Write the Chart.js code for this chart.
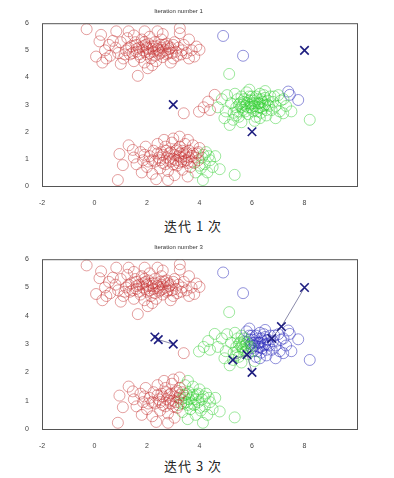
<!DOCTYPE html>
<html>
<head>
<meta charset="utf-8">
<script src="https://cdn.jsdelivr.net/npm/chart.js@4/dist/chart.umd.min.js"></script>
<style>
  body { margin: 0; background: #fff; width: 394px; height: 478px; position: relative; overflow: hidden; }
  canvas { position: absolute; left: 0; }
  .cap { position: absolute; left: 0; width: 386px; text-align: center; font-family: "Noto Sans CJK SC", sans-serif; font-size: 13px; color: #222; letter-spacing: 1px; }
</style>
</head>
<body>
<canvas id="c1" width="394" height="206" style="top:0"></canvas>
<div class="cap" style="top:216px">迭代 1 次</div>
<canvas id="c2" width="394" height="213" style="top:236px"></canvas>
<div class="cap" style="top:456px">迭代 3 次</div>
<script>
// data points (same points in both iterations)
const upperPts = [
  [-0.3,5.78],[0.83,5.7],[0.25,5.57],[1.91,5.7],[3.25,5.82],[3.25,5.63],[3.88,5.14],[4.0,5.02],[3.8,4.77],[0.06,4.77],
  [0.19,5.33],[1.65,4.06],[2.03,4.34],[0.4,5.0],[0.55,5.2],[0.6,4.8],[0.8,5.1],[0.9,4.9],[1.0,5.3],[1.1,4.7],
  [1.2,5.0],[1.25,5.45],[1.35,4.85],[1.4,5.15],[1.5,4.6],[1.55,5.3],[1.6,4.95],[1.7,5.1],[1.75,4.75],[1.8,5.4],
  [1.85,5.0],[1.9,4.55],[1.95,5.2],[2.0,4.85],[2.05,5.05],[2.1,5.5],[2.15,4.7],[2.2,5.15],[2.25,4.95],[2.3,5.3],
  [2.35,4.6],[2.4,5.05],[2.45,4.85],[2.5,5.2],[2.55,5.4],[2.6,4.75],[2.7,5.0],[2.75,5.25],[2.8,4.9],[2.9,5.1],
  [3.0,4.7],[3.05,5.3],[3.1,4.95],[3.2,5.1],[3.3,4.85],[3.4,5.2],[3.5,4.9],[3.6,5.4],[2.6,5.6],[1.5,5.55],
  [2.2,4.45],[1.0,4.5],[0.3,4.55],[2.9,4.55],[3.6,4.7],[1.3,5.7],[2.4,5.7],
  [1.3,5.1],[1.45,4.9],[1.6,5.2],[1.7,4.85],[1.85,5.15],[1.95,4.95],[2.05,5.25],[2.1,4.9],[2.2,5.05],[2.3,4.8],
  [2.35,5.15],[2.45,5.0],[2.55,5.1],[2.6,4.95],[2.65,5.2],[2.75,4.85],[2.85,5.05],[2.95,4.9],[3.0,5.2],[3.15,4.8],
  [1.15,4.85],[1.9,5.3],[2.5,4.9],[2.0,5.1],[2.8,5.15],[1.6,5.05],[3.35,5.0],[0.7,5.35],[0.45,4.7],[3.7,5.0]
];
const middlePts = [
  [3.4,2.68],[3.98,2.74],[4.16,2.9],[4.33,3.11],[4.58,3.36],[4.9,5.53],[5.66,4.8],[5.13,4.13],[5.15,2.25],[5.28,2.44],
  [7.38,3.48],[7.44,3.36],[7.76,3.17],[8.2,2.44],[7.19,2.68],[4.4,2.8],[4.7,2.9],[4.85,3.2],[5.0,2.75],[5.05,3.35],
  [5.2,3.05],[5.3,2.7],[5.35,3.4],[5.4,2.9],[5.45,3.2],[5.5,2.55],[5.55,3.05],[5.6,3.3],[5.65,2.8],[5.7,3.1],
  [5.75,2.95],[5.8,3.45],[5.85,2.65],[5.9,3.15],[5.95,2.9],[6.0,3.3],[6.05,2.75],[6.1,3.05],[6.15,2.55],[6.2,3.2],
  [6.25,2.9],[6.3,3.4],[6.35,2.7],[6.4,3.1],[6.45,2.95],[6.5,3.25],[6.55,2.6],[6.6,3.0],[6.7,3.3],[6.75,2.8],
  [6.8,3.1],[6.9,2.95],[7.0,3.35],[7.05,2.75],[7.1,3.15],[6.9,2.5],[6.1,2.4],[5.6,2.35],[5.9,3.55],[6.5,3.5],
  [7.3,2.95],[5.4,2.6],[6.3,2.5],
  [5.5,3.0],[5.6,2.9],[5.7,3.2],[5.75,2.75],[5.8,3.05],[5.85,2.9],[5.9,3.3],[5.95,3.0],[6.0,2.85],[6.05,3.15],
  [6.1,2.95],[6.15,3.3],[6.2,2.75],[6.25,3.05],[6.3,2.9],[6.35,3.2],[6.4,2.85],[6.45,3.35],[6.5,3.0],[6.55,2.8],
  [6.6,3.15],[6.65,2.95],[5.65,3.0],[6.0,3.05],[6.3,3.05],[5.45,2.75],[6.85,3.3],[7.2,3.2],[7.5,2.75],[4.95,2.5]
];
const lowerPts = [
  [0.89,0.22],[1.08,0.77],[0.95,1.18],[1.46,1.33],[5.34,0.41],[4.77,0.62],[4.13,0.22],[2.8,0.22],[3.24,1.82],[3.56,1.7],
  [1.5,1.05],[1.6,0.8],[1.75,1.25],[1.85,0.95],[1.95,1.45],[2.0,0.7],[2.1,1.1],[2.2,0.45],[2.25,1.3],[2.3,0.9],
  [2.4,1.55],[2.45,1.05],[2.5,0.65],[2.55,1.25],[2.6,0.85],[2.7,1.45],[2.75,1.05],[2.8,0.55],[2.85,1.2],[2.9,0.9],
  [2.95,1.6],[3.0,1.0],[3.05,0.4],[3.1,1.3],[3.15,0.75],[3.2,1.1],[3.25,1.45],[3.3,0.9],[3.35,0.6],[3.4,1.2],
  [3.45,1.55],[3.5,0.95],[3.55,0.35],[3.6,1.3],[3.65,0.7],[3.7,1.1],[3.75,1.5],[3.8,0.85],[3.85,0.5],[3.9,1.2],
  [3.95,0.95],[4.0,1.4],[4.05,0.65],[4.1,1.05],[4.2,0.8],[4.25,1.25],[4.3,0.5],[4.4,0.95],[4.5,0.7],[4.6,1.1],
  [1.3,1.5],[2.35,0.25],[3.0,1.75],[1.8,0.5],[2.65,1.7],
  [2.4,1.2],[2.5,0.95],[2.6,1.15],[2.7,0.8],[2.75,1.3],[2.85,1.0],[2.9,1.25],[3.0,0.8],[3.05,1.15],[3.1,0.95],
  [3.15,1.35],[3.2,0.85],[3.25,1.2],[3.3,1.05],[3.35,1.3],[3.4,0.9],[3.45,1.1],[3.5,1.25],[3.55,0.85],[3.6,1.05],
  [3.7,0.9],[3.75,1.2],[3.85,1.05],[3.95,1.25],[4.0,0.75],[4.15,1.15],[4.35,1.1],[2.2,0.95],[1.9,1.15],[2.05,0.9]
];

// centroid history: red, green, blue
const iter1Centroids = [[[3,3]], [[6,2]], [[8,5]]];
const iter3Centroids = [
  [[3,3],[2.43,3.16],[2.3,3.25]],
  [[6,2],[5.81,2.63],[5.27,2.44]],
  [[8,5],[7.12,3.62],[6.75,3.2]]
];

const xTicks = [-2, 0, 2, 4, 6, 8];
const yTicks = [0, 1, 2, 3, 4, 5, 6];
const clusterColors = ["rgba(195,45,45,0.45)", "rgba(40,205,40,0.45)", "rgba(40,40,185,0.5)"];

const allPts = upperPts.concat(middlePts, lowerPts);

const boxPlugin = {
  id: "box",
  afterDraw(chart) {
    const a = chart.chartArea, ctx = chart.ctx;
    ctx.save();
    ctx.strokeStyle = "#555";
    ctx.lineWidth = 1;
    ctx.strokeRect(a.left + 0.5, a.top + 0.5, a.right - a.left, a.bottom - a.top);
    ctx.restore();
  }
};

function makeChart(id, title, history) {
  const current = history.map(h => h[h.length - 1]);
  const groups = [[], [], []];
  allPts.forEach(p => {
    let best = 0, bd = Infinity;
    current.forEach((c, k) => {
      const d = (p[0] - c[0]) ** 2 + (p[1] - c[1]) ** 2;
      if (d < bd) { bd = d; best = k; }
    });
    groups[best].push({ x: p[0], y: p[1] });
  });

  const datasets = [];
  history.forEach(h => {
    datasets.push({
      type: "line",
      data: h.map(p => ({ x: p[0], y: p[1] })),
      showLine: true,
      borderColor: "rgba(110,110,150,0.8)",
      borderWidth: 1,
      pointStyle: "crossRot",
      pointRadius: 6,
      pointBorderColor: "#1e1e80",
      pointBorderWidth: 1.6,
      fill: false
    });
  });
  groups.forEach((g, k) => {
    datasets.push({
      type: "scatter",
      data: g,
      pointStyle: "circle",
      pointRadius: 5.5,
      pointBorderWidth: 1,
      pointBorderColor: clusterColors[k],
      pointBackgroundColor: "rgba(0,0,0,0)"
    });
  });

  return new Chart(document.getElementById(id), {
    type: "scatter",
    data: { datasets },
    plugins: [boxPlugin],
    options: {
      responsive: false,
      animation: false,
      devicePixelRatio: 1,
      layout: { padding: { left: 0, right: 37, top: 0, bottom: 0 } },
      plugins: {
        legend: { display: false },
        tooltip: { enabled: false },
        title: {
          display: true,
          text: title,
          color: "#333",
          font: { family: "Liberation Sans", size: 6, weight: "normal" },
          padding: { top: 8, bottom: 8 }
        }
      },
      scales: {
        x: {
          type: "linear",
          min: -2,
          max: 10,
          afterBuildTicks: s => { s.ticks = xTicks.concat([10]).map(v => ({ value: v })); },
          afterFit: s => { s.height = 20; },
          grid: { display: false },
          border: { display: false },
          ticks: {
            color: "#444",
            padding: 5,
            font: { family: "Liberation Sans", size: 7 },
            callback: v => (xTicks.includes(v) ? String(v) : "")
          }
        },
        y: {
          type: "linear",
          min: 0,
          max: 6,
          afterBuildTicks: s => { s.ticks = yTicks.map(v => ({ value: v })); },
          afterFit: s => { s.width = 42; },
          grid: { display: false },
          border: { display: false },
          ticks: {
            color: "#444",
            padding: 5,
            font: { family: "Liberation Sans", size: 7 }
          }
        }
      }
    }
  });
}

makeChart("c1", "Iteration number 1", iter1Centroids);
makeChart("c2", "Iteration number 3", iter3Centroids);
</script>
</body>
</html>
